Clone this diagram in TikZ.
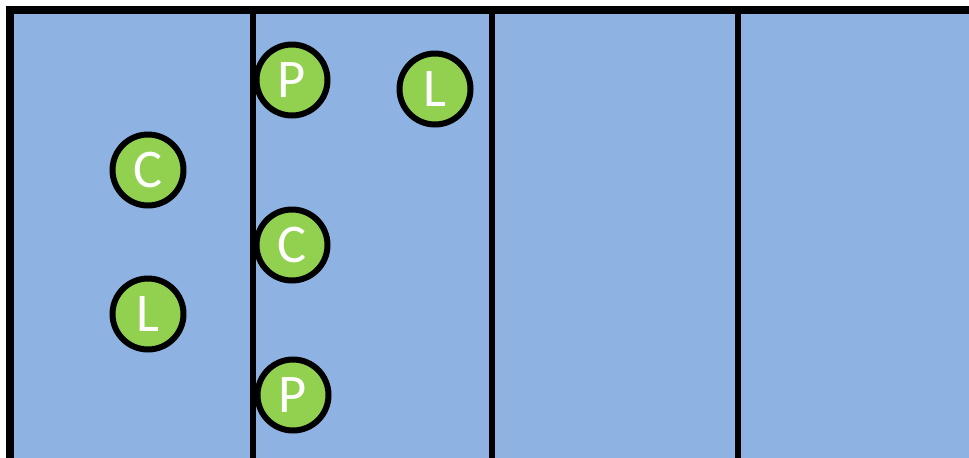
\documentclass[tikz,border=0pt]{standalone}
\usepackage{fontspec}
\setmainfont{Carlito}
\usetikzlibrary{positioning}
\definecolor{laneblue}{HTML}{8EB3E2}
\definecolor{tokengreen}{HTML}{92D050}

\begin{document}
\begin{tikzpicture}[
  x=0.02cm, y=-0.02cm,
  divider/.style={line width=0.12cm},
  frame/.style={line width=0.15cm},
  token/.style={circle, draw, fill=tokengreen, line width=0.12cm, minimum size=1.42cm, inner sep=0pt,
                text=white, font=\fontsize{31}{31}\selectfont}
]
\useasboundingbox (0,0) rectangle (969,457);

\fill[laneblue] (10,10) rectangle (975,465);
\draw[frame] (10,470) -- (10,10) -- (975,10);

\draw[divider] (253,10) -- (253,470);
\draw[divider] (492,10) -- (492,470);
\draw[divider] (738,10) -- (738,470);

% first lane
\node[token] (c1) at (148,170) {C};
\node[token] (l1) at (148,314) {L};

% second lane
\node[token] (p1) at (292,80) {P};
\node[token] (l2) at (435,89) {L};
\node[token] (c2) at (292,245) {C};
\node[token] (p2) at (293,395) {P};

\end{tikzpicture}
\end{document}
